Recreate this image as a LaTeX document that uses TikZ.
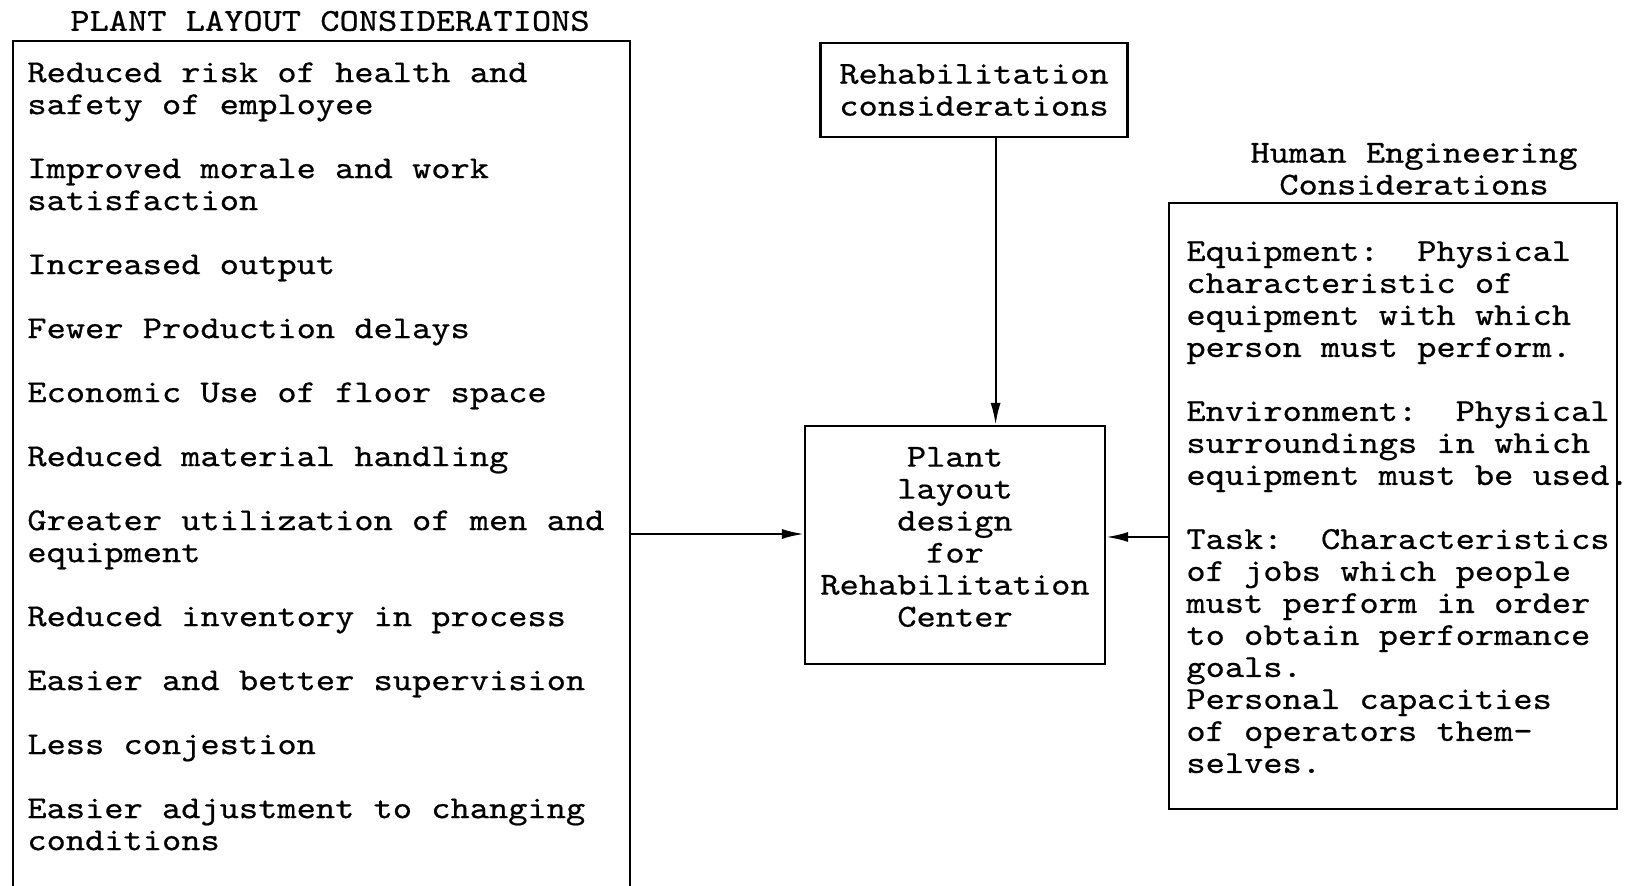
\documentclass[tikz,border=0pt]{standalone}
\usepackage{fontspec}
\setmonofont{lmmono10-regular.otf}[FakeStretch=1.145,FakeBold=0.6]
\usetikzlibrary{arrows.meta}

\tikzset{
  TextStyle/.style={font=\fontsize{16}{16}\ttfamily, inner sep=0pt},
  BoxStyle/.style={draw, line width=1.1pt, TextStyle},
  ArrowStyle/.style={line width=1.1pt, -{Latex[length=11pt,width=5pt]}}
}

\begin{document}
\begin{tikzpicture}[x=0.5pt,y=-0.5pt]
  \path[use as bounding box] (0,0) rectangle (1626,886);
  \clip (0,0) rectangle (1626,886);

  % plant layout side
  \node[TextStyle] (plantTitle) at (330,21) {PLANT LAYOUT CONSIDERATIONS};
  \node[BoxStyle,minimum width=308.5pt,minimum height=439.5pt] (layout) at (321.5,480.5) {};
  \node[TextStyle,align=left,anchor=north west] (benefits) at (27,62) {%
    Reduced risk of health and\\
    safety of employee\\[16pt]
    Improved morale and work\\
    satisfaction\\[16pt]
    Increased output\\[16pt]
    Fewer Production delays\\[16pt]
    Economic Use of floor space\\[16pt]
    Reduced material handling\\[16pt]
    Greater utilization of men and\\
    equipment\\[16pt]
    Reduced inventory in process\\[16pt]
    Easier and better supervision\\[16pt]
    Less conjestion\\[16pt]
    Easier adjustment to changing\\
    conditions};

  % middle
  \node[BoxStyle,align=center,minimum width=153.5pt,minimum height=47pt] (rehab) at (974,90)
    {Rehabilitation\\considerations};
  \node[BoxStyle,minimum width=150pt,minimum height=119pt] (plant) at (955,545) {};
  \node[TextStyle,align=center] (plantText) at (955,537)
    {Plant\\layout\\design\\for\\Rehabilitation\\Center};

  % human engineering side
  \node[TextStyle,align=center] (humanTitle) at (1414,169) {Human Engineering\\Considerations};
  \node[BoxStyle,minimum width=224pt,minimum height=303pt] (human) at (1393,506) {};
  \node[TextStyle,align=left,anchor=north west] (factors) at (1186,241) {%
    Equipment:~~Physical\\
    characteristic of\\
    equipment with which\\
    person must perform.\\[16pt]
    Environment:~~Physical\\
    surroundings in which\\
    equipment must be used.\\[16pt]
    Task:~~Characteristics\\
    of jobs which people\\
    must perform in order\\
    to obtain performance\\
    goals.\\
    Personal capacities\\
    of operators them-\\
    selves.};

  \coordinate (rehabOut) at ([xshift=10.8pt]rehab.south);
  \coordinate (leftIn) at ([yshift=5.5pt]plant.west);
  \coordinate (rightIn) at ([yshift=4pt]plant.east);
  \draw[ArrowStyle] (rehabOut) -- (rehabOut |- plant.north);
  \draw[ArrowStyle] (leftIn -| layout.east) -- (leftIn);
  \draw[ArrowStyle] (rightIn -| human.west) -- (rightIn);
\end{tikzpicture}
\end{document}
